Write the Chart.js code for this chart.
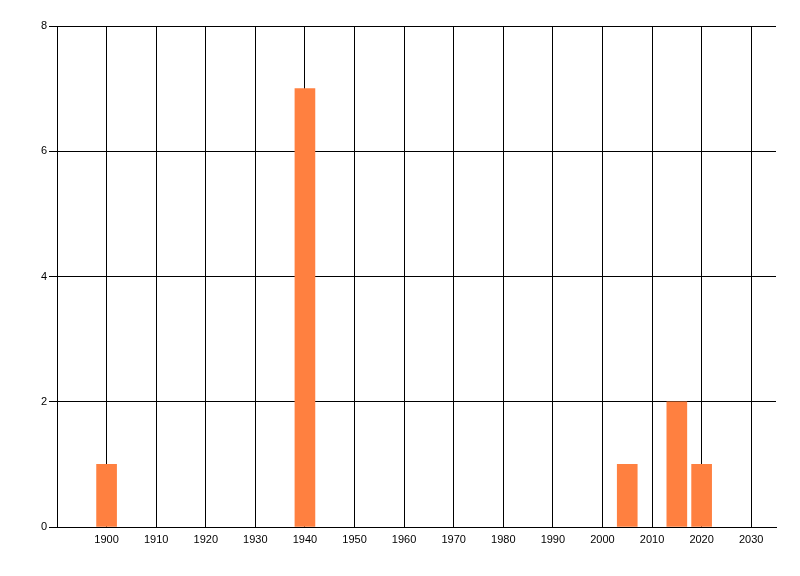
<!DOCTYPE html>
<html lang="en">
<head>
    <meta charset="UTF-8">
    <title>Bar chart</title>
    <script src="https://cdn.jsdelivr.net/npm/chart.js@4.4.0/dist/chart.umd.min.js"></script>
    <style>
        html, body { margin: 0; padding: 0; background: #fff; }
        #wrap { width: 800px; height: 576px; }
    </style>
</head>
<body>
    <div id="wrap"><canvas id="chart" width="800" height="576"></canvas></div>
    <script>
        // data
        const years = [1900, 1940, 2005, 2015, 2020];
        const counts = [1, 7, 1, 2, 1];
        const xTicks = [1900, 1910, 1920, 1930, 1940, 1950, 1960, 1970, 1980, 1990, 2000, 2010, 2020, 2030];
        const yTicks = [0, 2, 4, 6, 8];

        Chart.defaults.font.family = '"Liberation Sans", Arial, sans-serif';
        Chart.defaults.font.size = 11;
        Chart.defaults.color = '#000';

        new Chart(document.getElementById('chart'), {
            type: 'bar',
            data: {
                datasets: [{
                    data: years.map((y, i) => ({ x: y, y: counts[i] })),
                    backgroundColor: 'rgb(255,128,64)',
                    borderWidth: 0,
                    barThickness: 20
                }]
            },
            options: {
                responsive: false,
                animation: false,
                layout: { padding: { top: 26, right: 24, left: 0, bottom: 0 } },
                plugins: { legend: { display: false }, tooltip: { enabled: false } },
                scales: {
                    x: {
                        type: 'linear',
                        min: 1890,
                        max: 2035,
                        offset: false,
                        afterBuildTicks: s => { s.ticks = xTicks.map(v => ({ value: v })); },
                        afterFit: s => { s.height = 49; },
                        ticks: { padding: 6, maxRotation: 0, autoSkip: false, callback: v => String(v) },
                        grid: { color: '#000', offset: false, drawTicks: false },
                        border: { color: '#000' }
                    },
                    y: {
                        min: 0,
                        max: 8,
                        afterBuildTicks: s => { s.ticks = yTicks.map(v => ({ value: v })); },
                        afterFit: s => { s.width = 57; },
                        ticks: { padding: 2 },
                        grid: { color: '#000', tickLength: 8 },
                        border: { color: '#000' }
                    }
                }
            }
        });
    </script>
</body>
</html>
